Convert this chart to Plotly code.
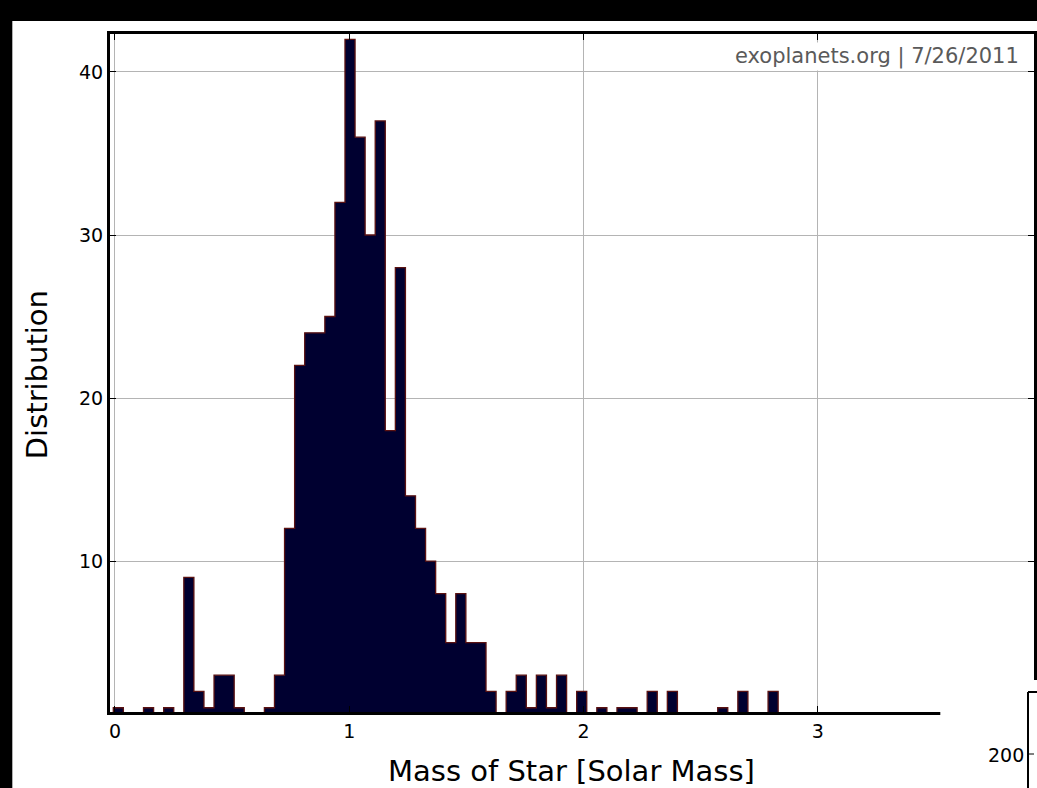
import numpy as np
import plotly.graph_objects as go

# Histogram of host-star masses (exoplanets.org, 7/26/2011)
bin_start = -0.0072      # left edge of the first bin [solar masses]
bin_width = 0.0430       # bin width [solar masses]
counts = [
    1, 0, 0, 1, 0, 1, 0, 9, 2, 1,
    3, 3, 1, 0, 0, 1, 3, 12, 22, 24,
    24, 25, 32, 42, 36, 30, 37, 18, 28, 14,
    12, 10, 8, 5, 8, 5, 5, 2, 0, 2,
    3, 1, 3, 1, 3, 0, 2, 0, 1, 0,
    1, 1, 0, 2, 0, 2, 0, 0, 0, 0,
    1, 0, 2, 0, 0, 2,
]
x_ticks = [0, 1, 2, 3]
y_ticks = [10, 20, 30, 40]

# Step outline of the histogram: edges with the count held across each bin
edges = bin_start + bin_width * np.arange(len(counts) + 1)
step_x = np.concatenate([[edges[0]], edges[:-1], [edges[-1], edges[-1]]])
step_y = np.concatenate([[0], counts, [counts[-1], 0]])

W, H = 1037, 788
ML, MR, MT, MB = 110, 0, 34, 76
PW, PH = W - ML - MR, H - MT - MB


def px(x):
    return (x - ML) / PW


def py(y):
    return (H - MB - y) / PH


fig = go.Figure(
    go.Scatter(
        x=step_x,
        y=step_y,
        mode="lines",
        line=dict(shape="hv", color="#5a1212", width=1.3),
        fill="tozeroy",
        fillcolor="#000030",
        hoverinfo="skip",
    )
)

axis_common = dict(
    showline=True,
    linecolor="black",
    linewidth=3,
    mirror="allticks",
    ticks="inside",
    ticklen=6,
    tickwidth=1,
    tickcolor="black",
    showgrid=True,
    gridcolor="#b4b4b4",
    gridwidth=1,
    zeroline=False,
    tickfont=dict(family="DejaVu Sans", size=19, color="black"),
)

fig.update_xaxes(range=[-0.0213, 3.923], tickvals=x_ticks, **axis_common)
fig.update_yaxes(range=[0.74, 42.33], tickvals=y_ticks, **axis_common)

shapes = [
    # white card behind the chart
    dict(type="rect", xref="paper", yref="paper",
         x0=px(12), x1=px(W + 5), y0=py(21), y1=py(H + 5),
         fillcolor="white", line=dict(width=0), layer="below"),
    # corner of the neighbouring panel at the bottom right
    dict(type="rect", xref="paper", yref="paper",
         x0=px(943), x1=px(W + 5), y0=py(680), y1=py(H + 5),
         fillcolor="white", line=dict(width=0), layer="above"),
    dict(type="line", xref="paper", yref="paper",
         x0=px(1031), x1=px(1031), y0=py(692), y1=py(H + 5),
         line=dict(color="black", width=2), layer="above"),
    dict(type="line", xref="paper", yref="paper",
         x0=px(1031), x1=px(W + 5), y0=py(692), y1=py(692),
         line=dict(color="black", width=2), layer="above"),
    dict(type="line", xref="paper", yref="paper",
         x0=px(1031), x1=px(1037), y0=py(754), y1=py(754),
         line=dict(color="black", width=1), layer="above"),
]

annotations = [
    dict(text="Mass of Star [Solar Mass]", xref="paper", yref="paper",
         x=px(573), y=py(771), xanchor="center", yanchor="middle",
         showarrow=False, font=dict(family="DejaVu Sans", size=29, color="black")),
    dict(text="Distribution", xref="paper", yref="paper",
         x=px(37), y=py(375), xanchor="center", yanchor="middle", textangle=-90,
         showarrow=False, font=dict(family="DejaVu Sans", size=29, color="black")),
    dict(text="exoplanets.org | 7/26/2011", xref="paper", yref="paper",
         x=px(1024), y=py(57), xanchor="right", yanchor="middle",
         showarrow=False, bgcolor="white",
         font=dict(family="DejaVu Sans", size=21, color="#5a5a5a")),
    dict(text="200", xref="paper", yref="paper",
         x=px(1029), y=py(755), xanchor="right", yanchor="middle",
         showarrow=False, font=dict(family="DejaVu Sans", size=19, color="black")),
]

fig.update_layout(
    width=W,
    height=H,
    margin=dict(l=ML, r=MR, t=MT, b=MB, pad=0),
    paper_bgcolor="black",
    plot_bgcolor="white",
    showlegend=False,
    shapes=shapes,
    annotations=annotations,
)

fig.write_html("out.html")
